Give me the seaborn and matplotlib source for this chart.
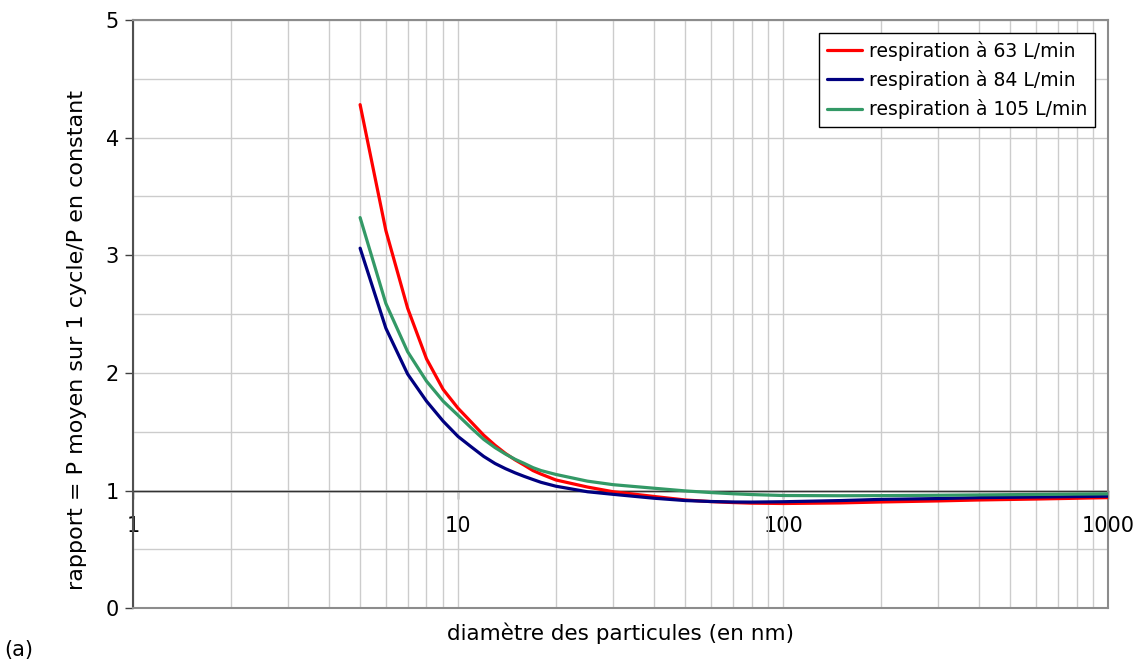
import matplotlib
matplotlib.use("Agg")
import matplotlib.pyplot as plt
import matplotlib.ticker as mticker
import pandas as pd
import seaborn as sns

# diameters (nm) and ratio values
diametre = [5, 6, 7, 8, 9, 10, 11, 12, 13, 14, 15, 16, 17, 18, 20, 25, 30, 40, 50,
            60, 70, 80, 100, 150, 200, 300, 400, 600, 1000]

resp_63 = [4.28, 3.21, 2.55, 2.12, 1.86, 1.70, 1.58, 1.47, 1.385, 1.315, 1.26, 1.215,
           1.17, 1.14, 1.09, 1.03, 0.99, 0.95, 0.92, 0.906, 0.898, 0.893, 0.89, 0.895,
           0.903, 0.912, 0.92, 0.928, 0.94]
resp_84 = [3.06, 2.38, 1.99, 1.76, 1.59, 1.46, 1.37, 1.29, 1.23, 1.186, 1.15, 1.12,
           1.094, 1.07, 1.037, 0.99, 0.968, 0.935, 0.915, 0.907, 0.903, 0.902, 0.905,
           0.915, 0.925, 0.932, 0.94, 0.945, 0.952]
resp_105 = [3.32, 2.59, 2.18, 1.93, 1.76, 1.64, 1.53, 1.435, 1.365, 1.31, 1.265, 1.23,
            1.195, 1.17, 1.137, 1.08, 1.05, 1.02, 0.997, 0.983, 0.973, 0.966, 0.958,
            0.956, 0.957, 0.96, 0.963, 0.967, 0.972]

series_names = ["respiration à 63 L/min", "respiration à 84 L/min", "respiration à 105 L/min"]
series_colors = ["#ff0000", "#000080", "#339966"]

sns.set_style("white")
plt.rcParams["font.family"] = ["DejaVu Sans"]
plt.rcParams["text.color"] = "black"
plt.rcParams["axes.labelcolor"] = "black"

df = pd.concat([
    pd.DataFrame({"d": diametre, "ratio": vals, "serie": name})
    for name, vals in zip(series_names, [resp_63, resp_84, resp_105])
])

fig = plt.figure(figsize=(11.45, 6.64), dpi=100)
ax = fig.add_axes([0.116, 0.084, 0.852, 0.886])

sns.lineplot(data=df, x="d", y="ratio", hue="serie", hue_order=series_names,
             palette=series_colors, estimator=None, sort=True, linewidth=2.3,
             ax=ax, legend=False, zorder=3)

ymin, ymax = 0, 5
ax.set_xscale("log")
ax.set_xlim(1, 1000)
ax.set_ylim(ymin, ymax)

# grid: log minor verticals, horizontals every 0.5
ax.xaxis.set_major_locator(mticker.LogLocator(base=10, subs=[1.0]))
ax.xaxis.set_minor_locator(mticker.LogLocator(base=10, subs=range(2, 10)))
ax.yaxis.set_major_locator(mticker.MultipleLocator(1))
ax.yaxis.set_minor_locator(mticker.MultipleLocator(0.5))
ax.grid(True, which="both", color="#cccccc", linewidth=1.0, zorder=0)
ax.set_axisbelow(True)

ax.tick_params(axis="x", which="both", bottom=False, labelbottom=False)
ax.tick_params(axis="y", which="major", left=True, length=6, width=1,
               color="#404040", labelcolor="black", labelsize=15, pad=4)
ax.tick_params(axis="y", which="minor", left=False)

# horizontal axis crossing at ratio = 1
ax.axhline(1, color="#333333", linewidth=1.0, zorder=2)
secax = ax.secondary_xaxis((1 - ymin) / (ymax - ymin))
secax.xaxis.set_major_locator(mticker.FixedLocator([1, 10, 100, 1000]))
secax.xaxis.set_major_formatter(mticker.FixedFormatter(["1", "10", "100", "1000"]))
secax.xaxis.set_minor_locator(mticker.NullLocator())
secax.tick_params(axis="x", length=6, width=1, color="#333333", labelcolor="black",
                  labelsize=15, pad=12)
secax.spines["bottom"].set_color("#333333")
secax.spines["bottom"].set_linewidth(1.0)

for side in ["top", "right", "bottom"]:
    ax.spines[side].set_color("#8c8c8c")
    ax.spines[side].set_linewidth(1.5)
ax.spines["left"].set_color("#505050")
ax.spines["left"].set_linewidth(1.5)

ax.set_xlabel("diamètre des particules (en nm)", fontsize=15.5, labelpad=10)
ax.set_ylabel("rapport = P moyen sur 1 cycle/P en constant", fontsize=16)
ax.yaxis.set_label_coords(-0.047, 0.456)

handles = [plt.Line2D([], [], color=c, linewidth=2.3) for c in series_colors]
leg = ax.legend(handles, series_names, loc="upper right", fontsize=13.5,
                frameon=True, fancybox=False, shadow=False, framealpha=1,
                edgecolor="black", handlelength=1.9, handletextpad=0.35,
                borderpad=0.4, labelspacing=0.5, borderaxespad=0.2,
                bbox_to_anchor=(0.99, 0.984))
leg.get_frame().set_linewidth(1.0)

fig.text(0.004, 0.012, "(a)", fontsize=15)

fig.savefig("out.png", dpi=100)
